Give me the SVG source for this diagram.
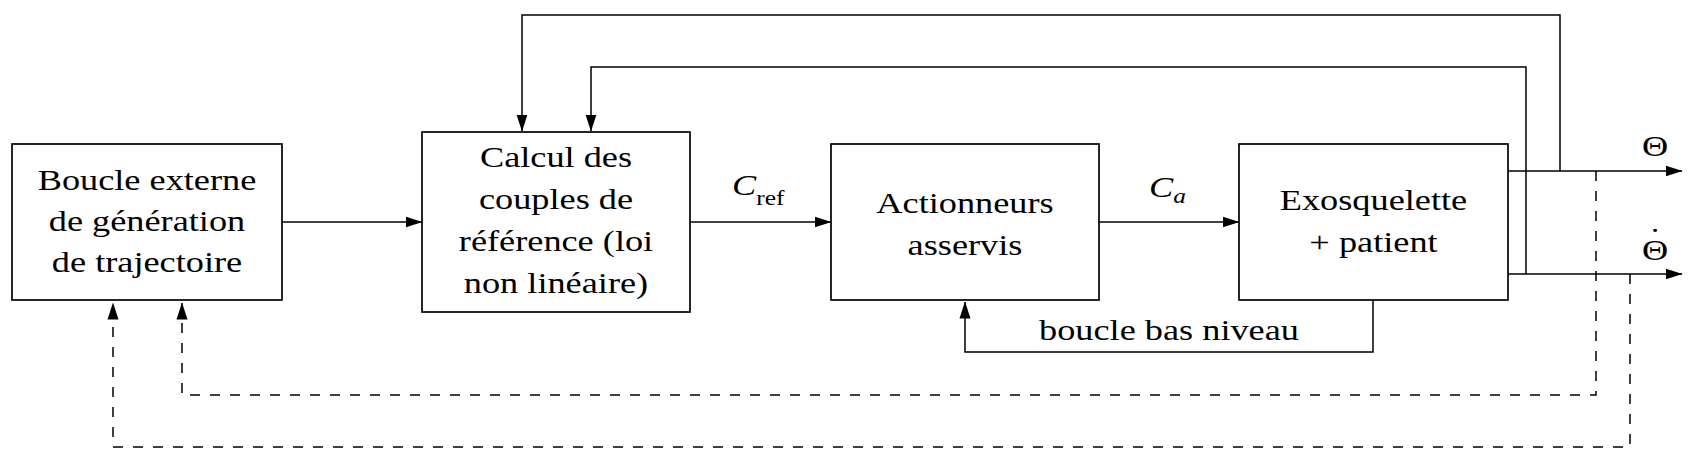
<svg xmlns="http://www.w3.org/2000/svg" width="1695" height="460" viewBox="0 0 1695 460">
<style>
.box{fill:#fff;stroke:#000;stroke-width:1.7}
.ln{fill:none;stroke:#000;stroke-width:1.5}
.dash{fill:none;stroke:#000;stroke-width:1.5;stroke-dasharray:10 10}
text{font-family:"Liberation Serif","Times New Roman",serif;font-size:30px;fill:#000}
.mid{text-anchor:middle}
.it{font-style:italic}
.sub{font-size:21px}
</style>
<defs>
<marker id="arr" markerUnits="userSpaceOnUse" markerWidth="17" markerHeight="12" viewBox="0 0 17 12" refX="16.5" refY="6" orient="auto">
<path d="M0,0.5 L17,6 L0,11.5 z" fill="#000"/>
</marker>
</defs>
<rect width="1695" height="460" fill="#fff"/>
<g id="connectors">
<path class="ln" d="M282,222 H422" marker-end="url(#arr)"/>
<path class="ln" d="M690,222 H831" marker-end="url(#arr)"/>
<path class="ln" d="M1099,222 H1239" marker-end="url(#arr)"/>
<path class="ln" d="M1508,171 H1682" marker-end="url(#arr)"/>
<path class="ln" d="M1508,274 H1682" marker-end="url(#arr)"/>
<path class="ln" d="M1560,171 V15 H522 V131" marker-end="url(#arr)"/>
<path class="ln" d="M1526,274 V67 H591 V131" marker-end="url(#arr)"/>
<path class="ln" d="M1373,300 V352 H965 V302" marker-end="url(#arr)"/>
<path class="dash" d="M1596,171 V395 H182 V303" marker-end="url(#arr)"/>
<path class="dash" d="M1630,274 V447 H113 V303" marker-end="url(#arr)"/>
<g transform="translate(732 0) scale(1.21 1)"><text x="0" y="195" class="it">C<tspan class="sub" font-style="normal" dy="10">ref</tspan></text></g>
<g transform="translate(1149 0) scale(1.21 1)"><text x="0" y="197" class="it">C<tspan class="sub" dy="6">a</tspan></text></g>
<g transform="translate(1655 0) scale(1.21 1)">
<text x="0" y="156" class="mid">Θ</text>
<text class="mid"><tspan x="0" y="260">Θ</tspan><tspan x="0" y="249">˙</tspan></text>
</g>
<g transform="translate(1169 0) scale(1.21 1)"><text x="0" y="340" class="mid">boucle bas niveau</text></g>
</g>
<g id="n1">
<rect class="box" x="12" y="144" width="270" height="156"/>
<g transform="translate(147 0) scale(1.21 1)">
<text x="0" y="190" class="mid">Boucle externe</text>
<text x="0" y="231" class="mid">de génération</text>
<text x="0" y="272" class="mid">de trajectoire</text>
</g>
</g>
<g id="n2">
<rect class="box" x="422" y="132" width="268" height="180"/>
<g transform="translate(556 0) scale(1.21 1)">
<text x="0" y="167" class="mid">Calcul des</text>
<text x="0" y="209" class="mid">couples de</text>
<text x="0" y="251" class="mid">référence (loi</text>
<text x="0" y="293" class="mid">non linéaire)</text>
</g>
</g>
<g id="n3">
<rect class="box" x="831" y="144" width="268" height="156"/>
<g transform="translate(965 0) scale(1.21 1)">
<text x="0" y="213" class="mid">Actionneurs</text>
<text x="0" y="255" class="mid">asservis</text>
</g>
</g>
<g id="n4">
<rect class="box" x="1239" y="144" width="269" height="156"/>
<g transform="translate(1373.5 0) scale(1.21 1)">
<text x="0" y="210" class="mid">Exosquelette</text>
<text x="0" y="252" class="mid">+ patient</text>
</g>
</g>
</svg>
